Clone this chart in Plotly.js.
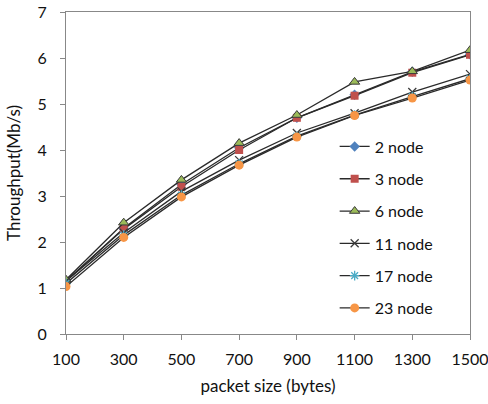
<!DOCTYPE html>
<html>
<head>
<meta charset="utf-8">
<script src="https://cdn.plot.ly/plotly-3.0.1.min.js"></script>
<style>html,body{margin:0;padding:0;background:#fff;}#chart{width:488px;height:404px;}</style>
</head>
<body>
<div id="chart"></div>
<script>
var packetSize = [100, 300, 500, 700, 900, 1100, 1300, 1500];
var node2  = [1.15, 2.30, 3.25, 4.05, 4.70, 5.20, 5.70, 6.08];
var node3  = [1.15, 2.28, 3.20, 4.00, 4.70, 5.18, 5.68, 6.07];
var node6  = [1.18, 2.42, 3.35, 4.15, 4.76, 5.48, 5.71, 6.17];
var node11 = [1.15, 2.20, 3.10, 3.78, 4.37, 4.80, 5.26, 5.65];
var node17 = [1.10, 2.15, 3.02, 3.70, 4.30, 4.76, 5.16, 5.55];
var node23 = [1.03, 2.10, 2.98, 3.67, 4.28, 4.75, 5.13, 5.52];
var names = ["2 node", "3 node", "6 node", "11 node", "17 node", "23 node"];
var series = [node2, node3, node6, node11, node17, node23];
var symbols = ["diamond", "square", "triangle-up", "x-thin-open", "asterisk-open", "circle"];
var colors = ["#4F81BD", "#C0504D", "#9BBB59", "#3b3b3b", "#4BACC6", "#F79646"];
var sizes = [8, 8, 9, 8, 8, 9];

var traces = series.map(function (s, i) {
  return {
    x: packetSize, y: s, name: names[i], type: "scatter", mode: "lines+markers",
    legendgroup: "g" + i,
    line: {color: "#2a2a2a", width: 1.3},
    marker: {
      symbol: symbols[i], size: sizes[i], color: colors[i],
      line: {color: (i === 2 ? "#3a3a3a" : colors[i]), width: (i === 3 || i === 4) ? 1.3 : (i === 2 ? 1 : 0)}
    }
  };
});

var layout = {
  width: 488, height: 404,
  margin: {l: 66, r: 18, t: 12, b: 70},
  paper_bgcolor: "#fff", plot_bgcolor: "#fff",
  font: {family: "Lato, Liberation Sans, Arial, sans-serif", size: 16, color: "#111"},
  showlegend: true,
  legend: {x: 0.665, y: 0.635, xanchor: "left", yanchor: "top", bgcolor: "rgba(0,0,0,0)",
           font: {size: 16}, tracegroupgap: 8.5},
  xaxis: {
    range: [100, 1500], tickmode: "array", tickvals: packetSize, ticktext: packetSize.map(String),
    showgrid: false, zeroline: false, showline: true, linecolor: "#888", linewidth: 1, mirror: true,
    ticks: "outside", ticklen: 5, tickcolor: "#888", ticklabelstandoff: 6, ticklabeloverflow: "allow",
    title: {text: "packet size (bytes)", font: {size: 17}, standoff: 12}
  },
  yaxis: {
    range: [0, 7], dtick: 1, showgrid: false, zeroline: false, showline: true,
    linecolor: "#888", linewidth: 1, mirror: true,
    ticks: "outside", ticklen: 5, tickcolor: "#888", ticklabelstandoff: 10,
    title: {text: "Throughput(Mb/s)", font: {size: 17}, standoff: 12}
  }
};
Plotly.newPlot("chart", traces, layout, {displayModeBar: false, staticPlot: true});
</script>
</body>
</html>
